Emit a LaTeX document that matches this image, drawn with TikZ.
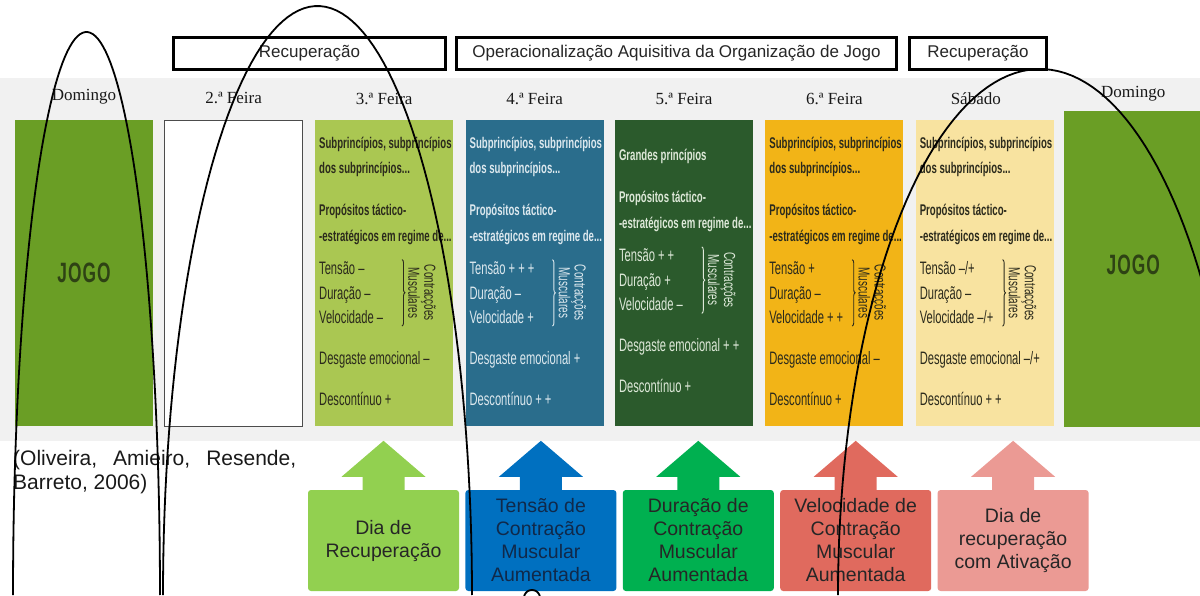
\documentclass[tikz,border=0pt]{standalone}
\usepackage{fontspec}
\setmainfont{Liberation Serif}
\newfontfamily\arialfont{Liberation Sans}
\newfontfamily\condsans[FakeStretch=0.62]{Liberation Sans}
\usetikzlibrary{positioning,calc,decorations.pathreplacing}

\definecolor{paper}{HTML}{F1F1F1}
\definecolor{jogogreen}{HTML}{6A9E25}
\definecolor{jogodark}{HTML}{2E4214}
\definecolor{tuegreen}{HTML}{AAC752}
\definecolor{wedblue}{HTML}{2A6D8C}
\definecolor{thugreen}{HTML}{2B5A2C}
\definecolor{friyellow}{HTML}{F2B417}
\definecolor{satyellow}{HTML}{F8E3A0}
\definecolor{darkink}{HTML}{2B2A1C}
\definecolor{wedink}{HTML}{DCE8EE}
\definecolor{thuink}{HTML}{DDE8D8}
\definecolor{recgreen}{HTML}{92D050}
\definecolor{tensblue}{HTML}{0070C0}
\definecolor{durgreen}{HTML}{00B050}
\definecolor{velred}{HTML}{E06A5E}
\definecolor{ativpink}{HTML}{EB9A94}
\definecolor{navyink}{HTML}{10294A}

\tikzstyle{phasebox} = [rectangle, draw=black, line width=3pt, fill=white,
                        minimum height=32pt, inner sep=0pt,
                        font=\arialfont\fontsize{17}{20}\selectfont, text=black!85]
\tikzstyle{daylabel} = [font=\fontsize{17}{20}\selectfont, text=black!90]
\tikzstyle{daybox} = [
    rectangle,                 % Shape
    minimum width=138pt,       % Width
    minimum height=306pt,      % Height
    inner sep=0pt
]
\tikzstyle{boldline} = [inner sep=0pt, align=left, font=\condsans\bfseries\fontsize{15.5}{25.5}\selectfont]
\tikzstyle{plainline} = [inner sep=0pt, align=left, font=\condsans\fontsize{18}{24.5}\selectfont]
\tikzstyle{musctext} = [inner sep=0pt, align=center, rotate=-90, font=\condsans\fontsize{16}{12}\selectfont]
\tikzstyle{jogotext} = [font=\condsans\bfseries\fontsize{28}{28}\selectfont, text=jogodark]
\tikzstyle{effectbox} = [rectangle, rounded corners=3pt, minimum width=151pt, minimum height=101pt,
                         inner sep=2pt, align=center, font=\arialfont\fontsize{19.5}{23}\selectfont]
\tikzstyle{markarc} = [black, line width=1.8pt]

% text of one training day: box, ink, heading, tension, duration, speed, stress, discontinuity
\newcommand{\dayfill}[8]{%
  \node[boldline, text=#2, anchor=west] (#1-hd) at ($(#1.north west)+(4,37)$) {#3};
  \node[boldline, text=#2, below=27pt of #1-hd.south west, anchor=north west] (#1-pr)
       {Propósitos táctico-\\-estratégicos em regime de...};
  \node[plainline, text=#2, below=17pt of #1-pr.south west, anchor=north west] (#1-sg)
       {Tensão #4\\Duração #5\\Velocidade #6};
  \draw[#2, line width=0.9pt, decorate, decoration={brace, amplitude=3pt}]
       ($(#1.west |- #1-sg.north)+(87,-2)$) -- ($(#1.west |- #1-sg.south)+(87,2)$);
  \node[musctext, text=#2] (#1-mc) at ($(#1.west |- #1-sg.center)+(107,0)$) {Contracções\\Musculares};
  \node[plainline, text=#2, below=27pt of #1-sg.south west, anchor=north west] (#1-dg) {Desgaste emocional #7};
  \node[plainline, text=#2, below=24pt of #1-dg.south west, anchor=north west] (#1-dc) {Descontínuo #8};
}

% block arrow standing on an effect box
\newcommand{\effarrow}[2]{%
  \fill[#2] ($(#1.north)+(-21,1)$) -- ($(#1.north)+(-21,-13)$) -- ($(#1.north)+(-42,-13)$)
       -- ($(#1.north)+(0,-49)$) -- ($(#1.north)+(42,-13)$) -- ($(#1.north)+(21,-13)$)
       -- ($(#1.north)+(21,1)$) -- cycle;
}

\begin{document}
\begin{tikzpicture}[x=1pt, y=-1pt, node distance=12pt]

		\useasboundingbox (0,0) rectangle (1200,595);

		% Scanned page
		\fill[paper] (0,78) rectangle (1200,441);

		% Phases
		\node[phasebox, minimum width=272pt] (rec1) at (309.5,53.5) {Recuperação};
		\node[phasebox, minimum width=440pt] (oper) at (676.5,53.5) {Operacionalização Aquisitiva da Organização de Jogo};
		\node[phasebox, minimum width=137pt] (rec2) at (978,53.5) {Recuperação};

		% Week
		\node[daybox, fill=jogogreen] (dom1) at (84,273) {};
		\node[daybox, fill=white, draw=gray!60!black, line width=0.8pt, right=11pt of dom1] (mon) {};
		\node[daybox, fill=tuegreen, right=of mon] (tue) {};
		\node[daybox, fill=wedblue, right=of tue] (wed) {};
		\node[daybox, fill=thugreen, right=11pt of wed] (thu) {};
		\node[daybox, fill=friyellow, right=of thu] (fri) {};
		\node[daybox, fill=satyellow, right=of fri] (sat) {};
		\node[daybox, fill=jogogreen, minimum height=316pt, right=10pt of sat, yshift=4pt] (dom2) {};

		% Day names
		\node[daylabel, above=12pt of dom1] (dom1-lbl) {Domingo};
		\node[daylabel, above=12pt of mon] (mon-lbl) {2.ª Feira};
		\node[daylabel, above=12pt of tue] (tue-lbl) {3.ª Feira};
		\node[daylabel, above=12pt of wed] (wed-lbl) {4.ª Feira};
		\node[daylabel, above=12pt of thu] (thu-lbl) {5.ª Feira};
		\node[daylabel, above=12pt of fri] (fri-lbl) {6.ª Feira};
		\node[daylabel, above=12pt of sat, xshift=-9pt] (sat-lbl) {Sábado};
		\node[daylabel, above=6pt of dom2] (dom2-lbl) {Domingo};

		% Match days
		\node[jogotext] (dom1-jogo) at (dom1.center) {J\kern1pt O\kern1pt G\kern1pt O};
		\node[jogotext] (dom2-jogo) at ($(dom2.center)+(0,-4)$) {J\kern1pt O\kern1pt G\kern1pt O};

		% Training days
		\dayfill{tue}{darkink}{Subprincípios, subprincípios\\dos subprincípios...}{–}{–}{–}{–}{+}
		\dayfill{wed}{wedink}{Subprincípios, subprincípios\\dos subprincípios...}{+ + +}{–}{+}{+}{+ +}
		\dayfill{thu}{thuink}{Grandes princípios}{+ +}{+}{–}{+ +}{+}
		\dayfill{fri}{darkink}{Subprincípios, subprincípios\\dos subprincípios...}{+}{–}{+ +}{–}{+}
		\dayfill{sat}{darkink}{Subprincípios, subprincípios\\dos subprincípios...}{–/+}{–}{–/+}{–/+}{+ +}

		% Source
		\node[anchor=north west, inner sep=0pt, text width=283pt, align=justify,
		      font=\arialfont\fontsize{21}{24}\selectfont, text=black!90] (source) at (13,450)
		      {(Oliveira, Amieiro, Resende,\linebreak Barreto, 2006)};

		% Effects
		\node[effectbox, fill=recgreen, text=black!85] (eff-rec) at (383.5,540.5) {Dia de\\Recuperação};
		\node[effectbox, fill=tensblue, text=navyink, right=6pt of eff-rec] (eff-ten) {Tensão de\\Contração\\Muscular\\Aumentada};
		\node[effectbox, fill=durgreen, text=black!85, right=6pt of eff-ten] (eff-dur) {Duração de\\Contração\\Muscular\\Aumentada};
		\node[effectbox, fill=velred, text=black!85, right=6pt of eff-dur] (eff-vel) {Velocidade de\\Contração\\Muscular\\Aumentada};
		\node[effectbox, fill=ativpink, text=black!85, right=6pt of eff-vel] (eff-ativ) {Dia de\\recuperação\\com Ativação};

		\effarrow{eff-rec}{recgreen}
		\effarrow{eff-ten}{tensblue}
		\effarrow{eff-dur}{durgreen}
		\effarrow{eff-vel}{velred}
		\effarrow{eff-ativ}{ativpink}

		% Hand-drawn arcs
		\begin{scope}
			\clip (0,0) rectangle (1200,595);
			\draw[markarc] plot[domain=180:360, samples=90] ({86.5+73.5*cos(\x)}, {595+563*sin(\x)});
			\draw[markarc] plot[domain=180:360, samples=90] ({317.5+154.5*cos(\x)}, {595+589*sin(\x)});
			\draw[markarc] plot[domain=180:360, samples=90] ({1040+202*cos(\x)}, {595+526*sin(\x)});
			\draw[markarc] plot[domain=180:360, samples=20] ({532+8*cos(\x)}, {598+8*sin(\x)});
		\end{scope}
	\end{tikzpicture}
\end{document}
